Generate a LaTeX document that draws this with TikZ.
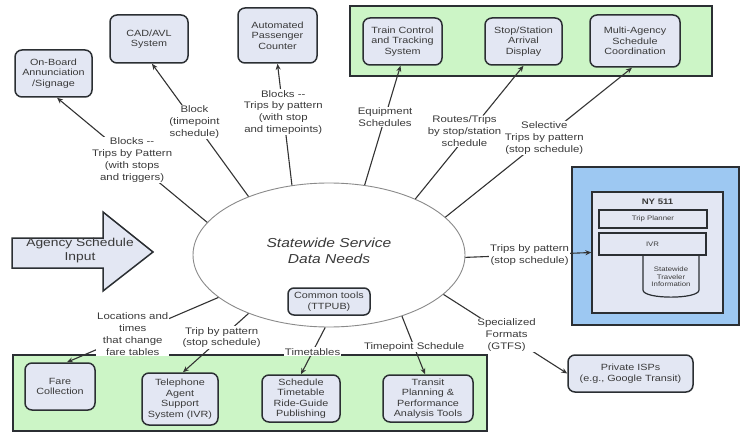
\documentclass[tikz,border=0pt]{standalone}
\usepackage{fontspec}
\setmainfont{Liberation Sans}
\newfontfamily\wsans[FakeStretch=1.2]{Liberation Sans}
\usetikzlibrary{arrows.meta,shapes.geometric}

\definecolor{boxfill}{HTML}{E3E7F3}
\definecolor{boxline}{HTML}{2B2F33}
\definecolor{greenfill}{HTML}{CCF5C6}
\definecolor{bluefill}{HTML}{9DC8F2}
\definecolor{lineclr}{HTML}{333333}
\definecolor{txt}{HTML}{3A3A3A}
\definecolor{ellline}{HTML}{8A8A8A}

\newcommand\bxfont{\wsans\fontsize{9}{10.5}\selectfont}
\newcommand\lblfont{\wsans\fontsize{9.5}{11.8}\selectfont}
\newcommand\smfont{\wsans\fontsize{6.5}{7.5}\selectfont}

\begin{document}
\begin{tikzpicture}[x=1pt,y=-1pt,
  box/.style={draw=boxline, fill=boxfill, rounded corners=7pt, line width=1.5pt,
    align=center, font=\bxfont, text=txt, inner sep=1pt},
  panel/.style={draw=boxline, line width=1.3pt, inner sep=0pt},
  lbl/.style={fill=white, align=center, font=\lblfont, text=txt, inner sep=1pt},
  conn/.style={draw=lineclr, line width=1.1pt, -{Stealth[length=6pt,width=5pt]}},
  bar/.style={draw=boxline, fill=boxfill, line width=1.2pt, font=\smfont,
    text=txt, inner sep=0pt},
]
\useasboundingbox (0,0) rectangle (741,433);

% group panels
\node[panel, fill=greenfill, minimum width=362pt, minimum height=70pt] (topgrp) at (531,41) {};
\node[panel, fill=greenfill, minimum width=474pt, minimum height=76pt] (botgrp) at (250,393) {};
\node[panel, fill=bluefill, minimum width=167pt, minimum height=158pt] (nygrp) at (655.5,246) {};

% NY 511 system
\node[panel, fill=boxfill, minimum width=131pt, minimum height=121pt] (ny) at (657.5,252.5) {};
\node[font=\wsans\bfseries\fontsize{8}{9}\selectfont, text=txt] (nyt) at (657.5,201.5) {NY 511};
\draw[draw=boxline, fill=boxfill, line width=1.2pt]
  (643,245) -- (643,290) .. controls (643,299.5) and (699,299.5) .. (699,290) -- (699,245) -- cycle;
\node[bar, minimum width=108pt, minimum height=18pt] (tp) at (653,219) {Trip Planner};
\node[bar, minimum width=107pt, minimum height=22pt] (ivr) at (652.5,244) {IVR};
\node[font=\smfont, text=txt, align=center] (sti) at (671,277) {Statewide\\Traveler\\Information};

% central ellipse
\node[ellipse, draw=ellline, line width=0.9pt, fill=white, minimum width=272pt,
  minimum height=144pt, inner sep=0pt] (ell) at (329,255) {};
\node[font=\wsans\itshape\fontsize{13}{15.5}\selectfont, text=txt, align=center] (ttl) at (329,251)
  {Statewide Service\\Data Needs};
\node[box, rounded corners=6pt, minimum width=82pt, minimum height=27pt] (ctools) at (329,301.5)
  {Common tools\\(TTPUB)};

% consumer systems
\node[box, minimum width=77pt, minimum height=47pt] (onb) at (53.5,73.5) {On-Board\\Annunciation\\/Signage};
\node[box, minimum width=78pt, minimum height=48pt] (cad) at (149,39) {CAD/AVL\\System};
\node[box, minimum width=79pt, minimum height=55pt] (apc) at (277.5,35.5) {Automated\\Passenger\\Counter};
\node[box, minimum width=79pt, minimum height=47pt] (tct) at (402.5,41.5) {Train Control\\and Tracking\\System};
\node[box, minimum width=77pt, minimum height=47pt] (ssa) at (523.5,41.5) {Stop/Station\\Arrival\\Display};
\node[box, minimum width=90pt, minimum height=52pt] (mac) at (635,41) {Multi-Agency\\Schedule\\Coordination};
\node[box, minimum width=70pt, minimum height=47pt] (fare) at (60,386.5) {Fare\\Collection};
\node[box, minimum width=76pt, minimum height=52pt] (tel) at (180,399) {Telephone\\Agent\\Support\\System (IVR)};
\node[box, minimum width=78pt, minimum height=47pt] (sched) at (301,398.5) {Schedule\\Timetable\\Ride-Guide\\Publishing};
\node[box, minimum width=90pt, minimum height=47pt] (tpp) at (428,398.5) {Transit\\Planning \&\\Performance\\Analysis Tools};
\node[box, minimum width=125pt, minimum height=37pt] (isp) at (630.5,373.5) {Private ISPs\\(e.g., Google Transit)};

% agency input arrow
\draw[draw=boxline, fill=boxfill, line width=1.5pt, line join=miter]
  (12,238) -- (103,238) -- (103,212) -- (153,252) -- (103,291) -- (103,268) -- (12,268) -- cycle;
\node[font=\wsans\fontsize{11.5}{14}\selectfont, text=txt, align=center] (asi) at (80,251)
  {Agency Schedule\\Input};

% data flows
\draw[conn] (ell.165) -- node[lbl, pos=0.5] {Blocks --\\Trips by Pattern\\(with stops\\and triggers)} ([xshift=3.5pt]onb.south);
\draw[conn] (ell.144) -- node[lbl, pos=0.56] {Block\\(timepoint\\schedule)} ([xshift=3pt]cad.south);
\draw[conn] (ell.118.5) -- node[lbl, pos=0.6] {Blocks --\\Trips by pattern\\(with stop\\and timepoints)} (apc.south);
\draw[conn] (ell.63.4) -- node[lbl, pos=0.57] {Equipment\\Schedules} ([xshift=-2pt]tct.south);
\draw[conn] (ell.33) -- node[lbl, pos=0.51, xshift=-6pt] {Routes/Trips\\by stop/station\\schedule} (ssa.south);
\draw[conn] (ell.18) -- node[lbl, pos=0.53] {Selective\\Trips by pattern\\(stop schedule)} ([xshift=-3pt]mac.south);
\draw[conn] (ell.-1) -- node[lbl, pos=0.51] {Trips by pattern\\(stop schedule)} (ny.west);
\draw[conn] (ell.-19) -- node[lbl, pos=0.51] {Specialized\\Formats\\(GTFS)} (isp.west);
\draw[conn] (ell.-40) -- node[lbl, pos=0.53] {Timepoint Schedule} ([xshift=-3pt]tpp.north);
\draw[conn] (ell.-93) -- node[lbl, pos=0.52] {Timetables} (sched.north);
\draw[conn] (ell.216) -- node[lbl, pos=0.41] {Trip by pattern\\(stop schedule)} ([xshift=3pt]tel.north);
\draw[conn] (ell.201) -- node[lbl, pos=0.566] {Locations and\\times\\that change\\fare tables} ([xshift=7pt]fare.north);
\end{tikzpicture}
\end{document}
